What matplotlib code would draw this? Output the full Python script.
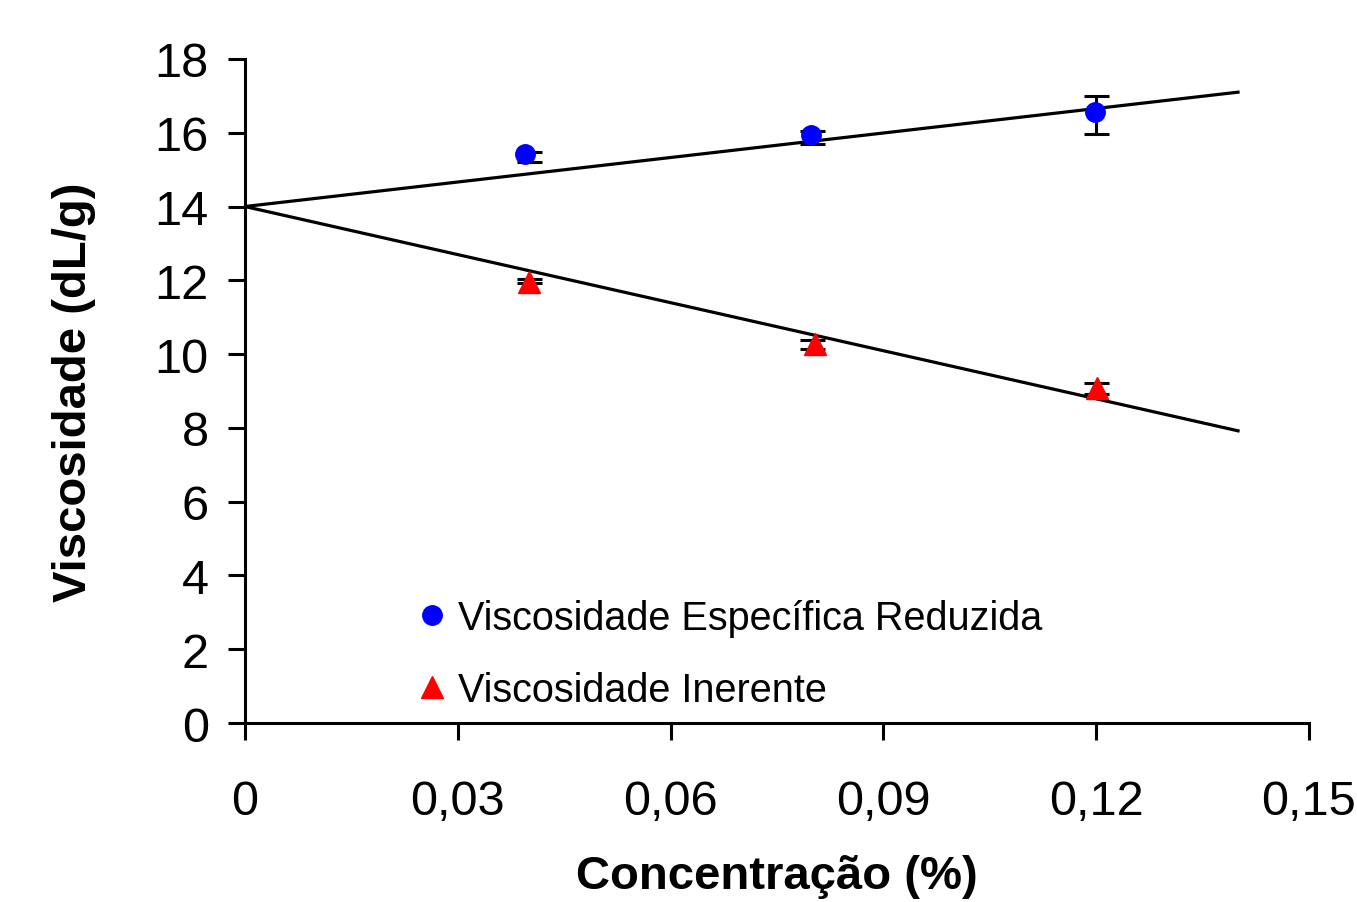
import numpy as np
import matplotlib
matplotlib.use("Agg")
import matplotlib.pyplot as plt
from matplotlib.ticker import FuncFormatter

plt.rcParams['font.family'] = ['Liberation Sans', 'DejaVu Sans']

# measured points
conc_esp = [0.0395, 0.0798, 0.1198]
visc_esp = [15.43, 15.93, 16.55]
conc_ine = [0.0400, 0.0804, 0.1201]
visc_ine = [11.95, 10.27, 9.08]

# error bars (drawn at nominal concentrations)
conc_err = [0.04, 0.08, 0.12]
esp_err_mid = [15.34, 15.88, 16.48]
esp_err = [0.13, 0.18, 0.52]
ine_err_mid = [11.98, 10.25, 9.08]
ine_err = [0.05, 0.12, 0.15]

# linear fits extrapolated to zero concentration
fit_x = [0.0, 0.14]
esp_fit = [14.0, 17.1]
ine_fit = [14.0, 7.92]

fig = plt.figure(figsize=(13.57, 9.03), dpi=100)
ax = fig.add_axes([0.1805, 0.1982, 0.7841, 0.7354])

ax.plot(fit_x, esp_fit, color='black', lw=2.3, zorder=2)
ax.plot(fit_x, ine_fit, color='black', lw=2.3, zorder=2)

ax.errorbar(conc_err, esp_err_mid, yerr=esp_err, fmt='none', ecolor='black',
            elinewidth=2.2, capsize=9, capthick=2.2, zorder=3)
ax.errorbar(conc_err, ine_err_mid, yerr=ine_err, fmt='none', ecolor='black',
            elinewidth=2.2, capsize=9, capthick=2.2, zorder=3)

ax.plot(conc_esp, visc_esp, 'o', color='#0000ff', ms=14, zorder=4,
        label='Viscosidade Específica Reduzida')
ax.plot(conc_ine, visc_ine, '^', color='#ff0000', ms=16, zorder=4,
        label='Viscosidade Inerente')

ax.set_xlim(0, 0.15)
ax.set_ylim(0, 18)
ax.set_xticks(np.arange(0, 0.151, 0.03))
ax.set_yticks(np.arange(0, 18.1, 2))
ax.xaxis.set_major_formatter(FuncFormatter(
    lambda v, p: '0' if abs(v) < 1e-9 else f'{v:.2f}'.replace('.', ',')))

for side in ['top', 'right']:
    ax.spines[side].set_visible(False)
for side in ['left', 'bottom']:
    ax.spines[side].set_linewidth(2.2)

ax.tick_params(direction='out', length=12, width=2.2, labelsize=35)
ax.tick_params(axis='y', pad=14)
ax.tick_params(axis='x', pad=28)

ax.set_xlabel('Concentração (%)', fontsize=34, fontweight='bold', labelpad=22)
ax.set_ylabel('Viscosidade (dL/g)', fontsize=34, fontweight='bold', labelpad=42)

ax.legend(loc='lower left', bbox_to_anchor=(0.137, -0.02), frameon=False,
          fontsize=28.5, handlelength=0.7, handletextpad=0.3, labelspacing=0.85,
          borderaxespad=0.3)

fig.savefig('out.png', dpi=100)
